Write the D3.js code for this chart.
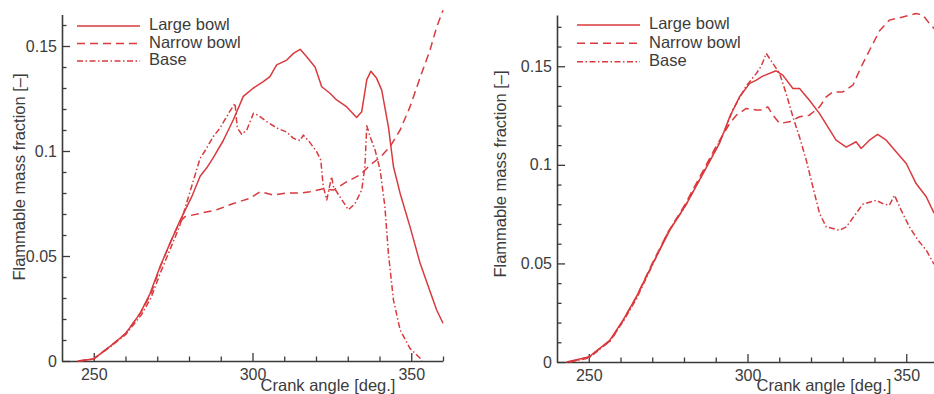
<!DOCTYPE html>
<html>
<head>
<meta charset="utf-8">
<script src="https://cdn.jsdelivr.net/npm/d3@7"></script>
<style>
  html, body { margin: 0; padding: 0; background: #fff; overflow: hidden; }
  svg { display: block; }
  text { font-family: "Liberation Sans", Arial, Helvetica, sans-serif; }
</style>
</head>
<body>
<svg id="chart" width="934" height="394"></svg>
<script>
// ---------- data (crank angle [deg], flammable mass fraction) ----------
const seriesNames = ["Large bowl", "Narrow bowl", "Base"];

const leftLarge = [[245,0],[250,0.001],[255,0.0068],[260,0.013],[264.6,0.0227],[267.7,0.032],[270.9,0.045],[274,0.056],[277.2,0.067],[280.8,0.078],[283.5,0.088],[285.6,0.092],[287.7,0.097],[290.8,0.105],[294,0.115],[297.1,0.126],[300.3,0.130],[303.4,0.133],[305.5,0.1354],[307.6,0.141],[310.8,0.1433],[312.9,0.1465],[315,0.1484],[317,0.145],[319.7,0.140],[321.8,0.1306],[324.4,0.1275],[326.5,0.1243],[329.7,0.121],[332.8,0.116],[334.4,0.1187],[336,0.134],[337.3,0.138],[339.1,0.1346],[340.7,0.129],[342.8,0.1116],[344.4,0.0925],[346.5,0.0798],[349.6,0.064],[352.8,0.0465],[355.4,0.0354],[358,0.0243],[360,0.018]];

const leftNarrow = [[245,0],[250,0.001],[255,0.0068],[260,0.013],[265,0.0235],[268,0.032],[271,0.045],[274,0.056],[277,0.066],[278.7,0.0687],[283.5,0.0703],[288.7,0.072],[294,0.075],[299.2,0.0775],[302.4,0.0806],[306.6,0.079],[310.8,0.080],[315,0.080],[318.1,0.0806],[322.3,0.082],[325.5,0.0814],[329.7,0.0854],[333.9,0.0886],[337,0.0933],[340.2,0.097],[343.3,0.102],[346.5,0.110],[349.6,0.121],[352.8,0.135],[355.9,0.148],[358,0.159],[360,0.167]];

const leftBase = [[246,0],[250,0.001],[255,0.0065],[260,0.0125],[265,0.022],[268,0.030],[271,0.042],[274,0.053],[277,0.064],[280,0.079],[282,0.089],[283.5,0.0965],[285,0.100],[287.7,0.107],[289.8,0.111],[292.9,0.119],[294.5,0.1227],[295.2,0.111],[296.6,0.108],[298.2,0.110],[300.3,0.118],[301.8,0.117],[304.5,0.114],[307.6,0.111],[310.8,0.109],[312.9,0.106],[315,0.105],[316,0.1076],[318.1,0.104],[320.2,0.0997],[321.5,0.0957],[322.3,0.083],[323.4,0.0767],[324.9,0.0878],[325.5,0.083],[327.6,0.078],[330.2,0.072],[332.3,0.075],[334.4,0.0814],[335.4,0.0925],[336,0.112],[337,0.107],[338.6,0.1005],[340.2,0.091],[341.7,0.0735],[342.8,0.0513],[344.4,0.029],[346.5,0.0148],[349.6,0.006],[352.8,0.0013],[353.3,0]];

const rightLarge = [[243,0],[250,0.0025],[256.6,0.011],[260.8,0.0212],[265,0.033],[270.2,0.050],[275.5,0.0668],[280.7,0.080],[286,0.0956],[291.2,0.111],[294.4,0.1244],[297.5,0.1345],[300.7,0.1413],[302.8,0.143],[304.8,0.145],[309,0.1477],[311.1,0.1455],[314.3,0.1387],[316.4,0.1387],[319.5,0.1328],[322.7,0.126],[325.3,0.1193],[327.9,0.1125],[331.1,0.109],[334.2,0.1117],[335.8,0.1083],[338.4,0.1125],[341,0.1154],[343.7,0.1125],[346.8,0.1066],[350,0.1007],[353.1,0.0905],[356.3,0.0838],[358.6,0.076],[360,0.073]];

const rightNarrow = [[244,0],[250,0.0025],[257,0.011],[261,0.0215],[265,0.033],[270,0.050],[275,0.066],[280,0.079],[285,0.094],[290,0.109],[294.4,0.121],[296.5,0.1252],[299.6,0.1286],[302.8,0.1278],[304.8,0.1278],[306.4,0.1294],[308,0.1252],[310.1,0.121],[313.2,0.1218],[316.4,0.1244],[319.5,0.1252],[322.7,0.1294],[324.8,0.1345],[326.9,0.137],[330,0.137],[333.2,0.1404],[335.8,0.1497],[338.4,0.158],[341.6,0.168],[344.7,0.1734],[348.9,0.175],[353.1,0.1768],[355.2,0.176],[357.3,0.1717],[360,0.167]];

const rightBase = [[244,0],[250,0.002],[256.6,0.0105],[261,0.021],[265,0.032],[270,0.049],[275,0.066],[280,0.078],[285,0.093],[290,0.108],[293,0.118],[295.4,0.128],[299.6,0.140],[302.8,0.1464],[304.3,0.150],[305.9,0.1565],[308,0.1514],[310.1,0.1464],[312.2,0.136],[314.3,0.1244],[316.4,0.114],[318.5,0.1024],[320.6,0.0888],[322.7,0.0753],[324.8,0.0685],[326.9,0.0677],[329,0.0668],[331.1,0.0685],[334.2,0.0753],[336.3,0.080],[340.5,0.082],[343.1,0.080],[344.7,0.0795],[346.3,0.0846],[348.4,0.077],[351,0.0685],[353.7,0.0618],[356.3,0.0567],[358.6,0.050],[360,0.048]];

const xMajorTicks = [250, 300, 350];
const xTickLabels = ["250", "300", "350"];
const xMinorTicks = [260, 270, 280, 290, 310, 320, 330, 340, 360];
const yMajorTicks = [0, 0.05, 0.1, 0.15];
const yTickLabels = ["0", "0.05", "0.1", "0.15"];
const yMinorTicks = [0.01, 0.02, 0.03, 0.04, 0.06, 0.07, 0.08, 0.09, 0.11, 0.12, 0.13, 0.14, 0.16, 0.17];

const xTitle = "Crank angle [deg.]";
const yTitle = "Flammable mass fraction [–]";

// ---------- drawing ----------
const RED = "#d93a3e";
const AXIS = "#3a3a3a";
const TEXT = "#3c3c3c";
const styles = [
  { dash: null },
  { dash: "8,5" },
  { dash: "6,2.5,1.5,2.5" }
];

const svg = d3.select("#chart");

const panels = [
  { x0: 62, x1: 443, yBottom: 361, yTop: 14.5, yMax: 0.165,
    data: [leftLarge, leftNarrow, leftBase],
    yTitleX: 19, yTitleY: 177, xTitleX: 328,
    legX: 77, legRows: [26, 43.5, 61] },
  { x0: 557, x1: 938, yBottom: 362, yTop: 15, yMax: 0.176,
    data: [rightLarge, rightNarrow, rightBase],
    yTitleX: 500, yTitleY: 174, xTitleX: 824,
    legX: 577, legRows: [25, 43.3, 61.7] }
];

panels.forEach(p => {
  const x = d3.scaleLinear().domain([240, 360]).range([p.x0, p.x1]);
  const y = d3.scaleLinear().domain([0, p.yMax]).range([p.yBottom, p.yTop]);
  const g = svg.append("g");

  // minor ticks (only those inside the axis range)
  g.append("g").attr("transform", `translate(0,${p.yBottom})`)
    .call(d3.axisBottom(x).tickValues(xMinorTicks).tickSize(-4.5).tickSizeOuter(0).tickFormat(""))
    .call(a => a.select(".domain").remove());
  g.append("g").attr("transform", `translate(${p.x0},0)`)
    .call(d3.axisLeft(y).tickValues(yMinorTicks.filter(v => v <= p.yMax)).tickSize(-4.5).tickSizeOuter(0).tickFormat(""))
    .call(a => a.select(".domain").remove());

  // major axes
  g.append("g").attr("transform", `translate(0,${p.yBottom})`)
    .call(d3.axisBottom(x).tickValues(xMajorTicks).tickSize(-8).tickSizeOuter(0)
      .tickPadding(7.5).tickFormat((d, i) => xTickLabels[i]));
  g.append("g").attr("transform", `translate(${p.x0},0)`)
    .call(d3.axisLeft(y).tickValues(yMajorTicks).tickSize(-8).tickSizeOuter(0)
      .tickPadding(5).tickFormat((d, i) => yTickLabels[i]));

  g.selectAll(".tick line").attr("stroke", AXIS).attr("stroke-width", 1.3);
  g.selectAll(".domain").attr("stroke", AXIS).attr("stroke-width", 1.6);
  g.selectAll(".tick text").attr("fill", TEXT).style("font-size", "16px")
    .style("font-family", '"Liberation Sans", Arial, sans-serif');

  // axis titles
  g.append("text").attr("x", p.xTitleX).attr("y", 391)
    .attr("text-anchor", "middle").attr("fill", TEXT).style("font-size", "16.5px")
    .text(xTitle);
  g.append("text")
    .attr("transform", `translate(${p.yTitleX},${p.yTitleY}) rotate(-90)`)
    .attr("text-anchor", "middle").attr("dominant-baseline", "central")
    .attr("fill", TEXT).style("font-size", "16.5px")
    .text(yTitle);

  // lines
  const line = d3.line().x(d => x(d[0])).y(d => y(d[1])).curve(d3.curveLinear);
  p.data.forEach((s, i) => {
    g.append("path").datum(s)
      .attr("fill", "none").attr("stroke", RED).attr("stroke-width", 1.5)
      .attr("stroke-linejoin", "round")
      .attr("stroke-dasharray", styles[i].dash)
      .attr("d", line);
  });

  // legend
  seriesNames.forEach((name, i) => {
    const yy = p.legRows[i];
    g.append("line").attr("x1", p.legX).attr("x2", p.legX + 63)
      .attr("y1", yy).attr("y2", yy)
      .attr("stroke", RED).attr("stroke-width", 1.5)
      .attr("stroke-dasharray", styles[i].dash);
    g.append("text").attr("x", p.legX + 72).attr("y", yy)
      .attr("dominant-baseline", "central").attr("dy", "-0.1em")
      .attr("fill", TEXT).style("font-size", "16.5px").text(name);
  });
});
</script>
</body>
</html>
